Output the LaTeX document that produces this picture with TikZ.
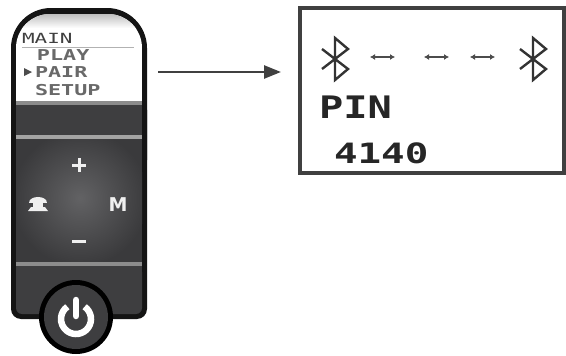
\documentclass[tikz,border=0pt]{standalone}
\usepackage{fontspec}
\usepackage{graphicx}
\usetikzlibrary{arrows.meta}
\newfontfamily\lcdfont{DejaVu Sans Mono}
\newfontfamily\keyfont{DejaVu Sans}
\definecolor{bandgray}{RGB}{62,62,64}
\definecolor{padedge}{RGB}{58,58,60}
\definecolor{padmid}{RGB}{98,98,100}
\definecolor{seamgray}{RGB}{140,140,140}
\definecolor{menugray}{RGB}{105,105,105}
\tikzset{
  menutxt/.style={anchor=base west, inner sep=0, outer sep=0,
    font=\lcdfont\bfseries\fontsize{15}{15}\selectfont, text=menugray},
  lcdtxt/.style={anchor=base west, inner sep=0, outer sep=0,
    font=\lcdfont\bfseries\fontsize{31}{31}\selectfont, text=black!85},
  keymark/.style={white!88!gray, line width=3},
  btline/.style={line width=2.4, black!80, line join=miter},
  linkarrow/.style={line width=2, black!70,
    {Latex[length=5pt,width=6pt]}-{Latex[length=5pt,width=6pt]}},
  btooth/.pic={\draw[btline] (-13,-10) -- (13,10) -- (0,21) -- (0,-21) -- (13,-10) -- (-13,10);}
}
\begin{document}
\begin{tikzpicture}[x=1pt,y=-1pt]
\useasboundingbox (0,0) rectangle (566,356);
\fill[white] (0,0) rectangle (566,356);

% --- remote: body shell ---
\fill[black!92, rounded corners=40] (11,8) rectangle (147,200);
\fill[black!92, rounded corners=10] (11,100) rectangle (147,319);

\begin{scope}
  % inner face of the remote
  \clip[rounded corners=34] (16,14) rectangle (142,200);
  \fill[white] (16,14) rectangle (142,101);
  \shade[top color=gray!50, bottom color=white] (16,14) rectangle (142,28);
\end{scope}

% bands and seams
\fill[seamgray] (16,101) rectangle (142,105);
\fill[bandgray] (16,105) rectangle (142,135);
\fill[seamgray!80] (16,135) rectangle (142,139);
\fill[padedge] (16,139) rectangle (142,262);
\begin{scope}
  \clip (16,139) rectangle (142,262);
  \shade[inner color=padmid, outer color=padedge] (80,198) circle (68);
\end{scope}
\fill[seamgray] (16,262) rectangle (142,266);
\fill[bandgray, rounded corners=6] (16,266) rectangle (142,314);
\fill[bandgray] (16,266) rectangle (142,290);

% --- display menu ---
\node[menutxt, font=\lcdfont\fontsize{14}{14}\selectfont, text=black!75] (mmain) at (22,43) {\scalebox{1.5}[1]{MAIN}};
\draw[gray!60, line width=1] (22,47) -- (134,47);
\node[menutxt] (mplay) at (37,60) {\scalebox{1.45}[1]{PLAY}};
\fill[black!70] (24,68) -- (32,72) -- (24,76) -- cycle;
\node[menutxt] (mpair) at (35,77) {\scalebox{1.45}[1]{PAIR}};
\node[menutxt] (msetup) at (35,95) {\scalebox{1.45}[1]{SETUP}};

% --- key pad marks ---
\draw[keymark] (72,165) -- (86,165) (79,158) -- (79,172);
\draw[keymark] (72,241) -- (86,241);
\node[anchor=base, inner sep=0, outer sep=0, text=white!88!gray,
  font=\keyfont\bfseries\fontsize{19}{19}\selectfont] (mkey) at (118,211) {M};
% handset key
\fill[white!88!gray] (29,203) .. controls (29,195) and (47,195) .. (47,203) -- cycle;
\fill[white!88!gray] (33,201) rectangle (43,208);
\fill[white!88!gray] (31,207) -- (45,207) -- (48,211) -- (28,211) -- cycle;

% --- power button ---
\fill[black] (76,317) circle (37);
\fill[bandgray] (76,317) circle (32);
\draw[white, line width=6.5] (76,319) ++(-55:15) arc[start angle=-55, end angle=235, radius=15];
\draw[white, line width=6.5, line cap=round] (76,300) -- (76,316);

% --- pointer to pairing screen ---
\coordinate (aS) at (158,72);
\coordinate (aE) at (281,72);
\draw[line width=2.5, black!75, -{Triangle[length=17pt,width=13pt]}] (aS) -- (aE);

% --- pairing screen ---
\node[draw=black!75, line width=3.5, minimum width=264pt, minimum height=165pt,
  anchor=north west, inner sep=0, outer sep=0] (lcd) at (300,8) {};
\pic at (335,59) {btooth};
\pic at (533,59) {btooth};
\coordinate (d1a) at (370,57); \coordinate (d1b) at (395,57);
\coordinate (d2a) at (424,57); \coordinate (d2b) at (449,57);
\coordinate (d3a) at (470,57); \coordinate (d3b) at (495,57);
\draw[linkarrow] (d1a) -- (d1b);
\draw[linkarrow] (d2a) -- (d2b);
\draw[linkarrow] (d3a) -- (d3b);
\node[lcdtxt] (pin) at (319,118) {\scalebox{1.3}[1]{PIN}};
\node[lcdtxt, font=\lcdfont\bfseries\fontsize{28}{28}\selectfont] (code) at (334,163) {\scalebox{1.4}[1]{4140}};
\end{tikzpicture}
\end{document}
